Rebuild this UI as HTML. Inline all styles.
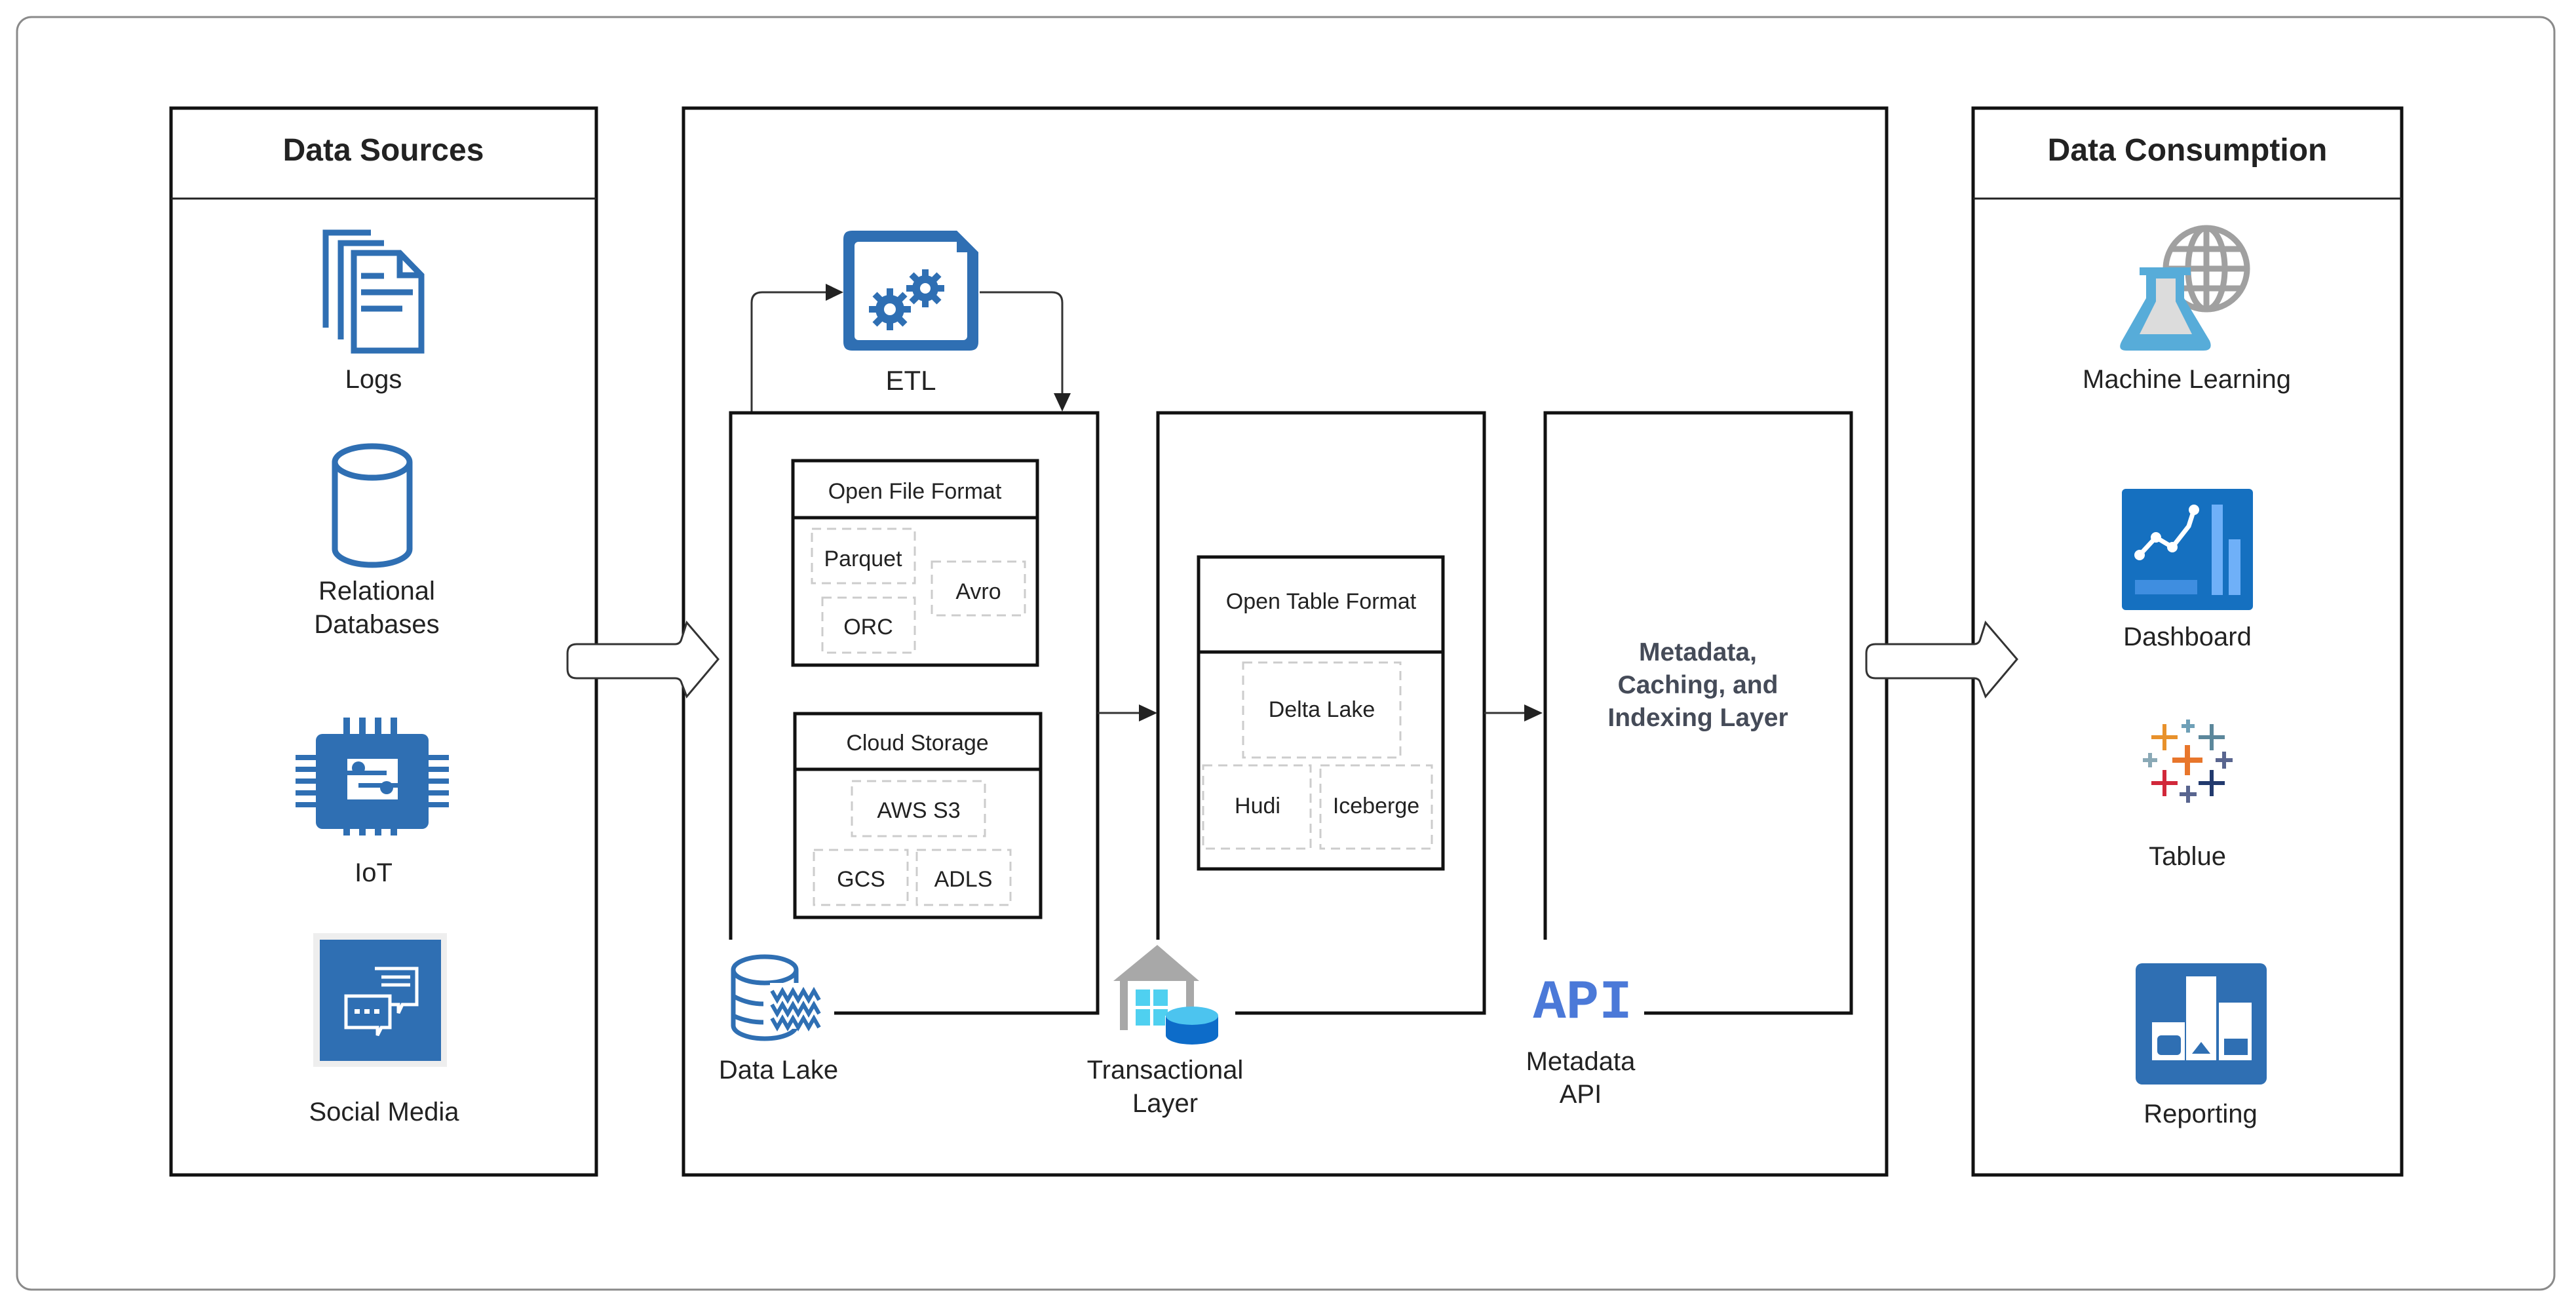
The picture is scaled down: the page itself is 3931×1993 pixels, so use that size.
<!DOCTYPE html>
<html><head><meta charset="utf-8"><style>
html,body{margin:0;padding:0;background:#fff;}
svg{display:block;}
text{font-family:"Liberation Sans",sans-serif;fill:#222;}
</style></head><body>
<svg width="3931" height="1993" viewBox="0 0 3931 1993" xmlns="http://www.w3.org/2000/svg">
<!-- outer -->
<rect x="26" y="26" width="3872" height="1942" rx="22" fill="#fff" stroke="#8a8a8a" stroke-width="3"/>

<!-- Data Sources -->
<rect x="261" y="165" width="649" height="1628" fill="#fff" stroke="#111" stroke-width="5"/>
<line x1="261" y1="303" x2="910" y2="303" stroke="#222" stroke-width="3"/>
<text x="585" y="245" font-size="48" font-weight="bold" text-anchor="middle" fill="#2a2a2a">Data Sources</text>

<!-- Logs icon -->
<g fill="none" stroke="#2f6fb3" stroke-width="9">
<path d="M497 500 V355 H566"/>
<path d="M520 518 V371 H586"/>
<path d="M540 535 V386 H610 L643 420 V535 Z"/>
<path d="M610 386 V420 H643"/>
<line x1="551" y1="421" x2="586" y2="421"/>
<line x1="551" y1="446" x2="630" y2="446"/>
<line x1="551" y1="471" x2="614" y2="471"/>
</g>
<text x="570" y="592" font-size="40" text-anchor="middle">Logs</text>

<!-- DB cylinder -->
<g fill="none" stroke="#2f6fb3" stroke-width="9">
<ellipse cx="568" cy="705" rx="57" ry="24"/>
<path d="M511 705 V838 A57 24 0 0 0 625 838 V705"/>
</g>
<text x="575" y="915" font-size="40" text-anchor="middle">Relational</text>
<text x="575" y="966" font-size="40" text-anchor="middle">Databases</text>

<!-- IoT chip -->
<g fill="#2f6fb3">
<rect x="524" y="1095" width="10" height="180"/><rect x="548" y="1095" width="10" height="180"/><rect x="572" y="1095" width="10" height="180"/><rect x="596" y="1095" width="10" height="180"/>
<rect x="451" y="1152" width="234" height="8"/><rect x="451" y="1170" width="234" height="8"/><rect x="451" y="1188" width="234" height="8"/><rect x="451" y="1206" width="234" height="8"/><rect x="451" y="1224" width="234" height="8"/>
<rect x="482" y="1120" width="172" height="145" rx="10"/>
</g>
<rect x="530" y="1158" width="77" height="62" fill="#fff"/>
<g fill="#2f6fb3"><rect x="530" y="1176" width="60" height="7"/><rect x="547" y="1195" width="60" height="7"/><circle cx="547" cy="1172" r="10"/><circle cx="590" cy="1202" r="10"/></g>
<text x="570" y="1345" font-size="40" text-anchor="middle">IoT</text>

<!-- Social media -->
<rect x="478" y="1424" width="204" height="204" fill="#eee"/>
<rect x="488" y="1434" width="185" height="185" fill="#2f6fb3"/>
<g fill="none" stroke="#fff" stroke-width="5">
<path d="M572 1478 H636 V1533 H614 L608 1546 V1533 H597"/>
<path d="M528 1520 H595 V1568 H582 L576 1580 V1568 H528 Z" fill="#2f6fb3"/>
<line x1="582" y1="1491" x2="626" y2="1491"/><line x1="582" y1="1503" x2="626" y2="1503"/>
</g>
<g fill="#fff"><rect x="541" y="1540" width="8" height="7"/><rect x="556" y="1540" width="8" height="7"/><rect x="571" y="1540" width="8" height="7"/></g>
<text x="586" y="1710" font-size="40" text-anchor="middle">Social Media</text>

<!-- middle box -->
<rect x="1043" y="165" width="1836" height="1628" fill="none" stroke="#111" stroke-width="5"/>

<!-- ETL icon -->
<path d="M1300 352 H1460 L1493 385 V522 Q1493 535 1480 535 H1300 Q1287 535 1287 522 V365 Q1287 352 1300 352 Z" fill="#2f6fb3"/>
<rect x="1304" y="369" width="172" height="150" rx="6" fill="#fff"/>
<path d="M1460 352 V385 H1493" fill="#2f6fb3"/>
<g fill="#2f6fb3">
<circle cx="1358" cy="472" r="22"/><circle cx="1412" cy="440" r="20"/>
<g stroke="#2f6fb3" stroke-width="10">
<line x1="1358" y1="440" x2="1358" y2="504"/><line x1="1326" y1="472" x2="1390" y2="472"/><line x1="1335" y1="449" x2="1381" y2="495"/><line x1="1381" y1="449" x2="1335" y2="495"/>
<line x1="1412" y1="411" x2="1412" y2="469"/><line x1="1383" y1="440" x2="1441" y2="440"/><line x1="1391" y1="419" x2="1433" y2="461"/><line x1="1433" y1="419" x2="1391" y2="461"/>
</g></g>
<circle cx="1358" cy="472" r="9" fill="#fff"/><circle cx="1412" cy="440" r="8" fill="#fff"/>
<text x="1390" y="595" font-size="42" text-anchor="middle">ETL</text>

<!-- ETL connectors -->
<path d="M1147 630 V462 Q1147 446 1163 446 H1262" fill="none" stroke="#333" stroke-width="3"/>
<path d="M1287 446 L1260 433 L1260 459 Z" fill="#222"/>
<path d="M1495 446 H1605 Q1621 446 1621 462 V600" fill="none" stroke="#333" stroke-width="3"/>
<path d="M1621 628 L1608 600 L1634 600 Z" fill="#222"/>

<!-- Data Lake box -->
<path d="M1115 1434 V630 H1675 V1546 H1273" fill="none" stroke="#111" stroke-width="5"/>
<!-- Transactional box -->
<path d="M1767 1434 V630 H2265 V1546 H1885" fill="none" stroke="#111" stroke-width="5"/>
<!-- Metadata box -->
<path d="M2358 1434 V630 H2825 V1546 H2509" fill="none" stroke="#111" stroke-width="5"/>

<!-- arrows between -->
<line x1="1675" y1="1088" x2="1740" y2="1088" stroke="#333" stroke-width="3"/>
<path d="M1766 1088 L1738 1075 L1738 1101 Z" fill="#222"/>
<line x1="2265" y1="1088" x2="2328" y2="1088" stroke="#333" stroke-width="3"/>
<path d="M2354 1088 L2326 1075 L2326 1101 Z" fill="#222"/>

<!-- Open File Format -->
<rect x="1210" y="703" width="373" height="312" fill="#fff" stroke="#111" stroke-width="5"/>
<line x1="1210" y1="790" x2="1583" y2="790" stroke="#111" stroke-width="5"/>
<text x="1396" y="761" font-size="34" text-anchor="middle">Open File Format</text>
<g fill="none" stroke="#ccc" stroke-width="3" stroke-dasharray="14 9">
<rect x="1239" y="807" width="157" height="83"/>
<rect x="1422" y="857" width="142" height="82"/>
<rect x="1255" y="912" width="141" height="84"/>
<rect x="1300" y="1192" width="203" height="84"/>
<rect x="1242" y="1297" width="143" height="84"/>
<rect x="1399" y="1297" width="143" height="84"/>
<rect x="1897" y="1011" width="240" height="145"/>
<rect x="1836" y="1168" width="164" height="127"/>
<rect x="2015" y="1168" width="170" height="127"/>
</g>
<text x="1317" y="864" font-size="34" text-anchor="middle">Parquet</text>
<text x="1493" y="914" font-size="34" text-anchor="middle">Avro</text>
<text x="1325" y="968" font-size="34" text-anchor="middle">ORC</text>

<!-- Cloud Storage -->
<rect x="1213" y="1089" width="375" height="311" fill="none" stroke="#111" stroke-width="5"/>
<line x1="1213" y1="1174" x2="1588" y2="1174" stroke="#111" stroke-width="5"/>
<text x="1400" y="1145" font-size="34" text-anchor="middle">Cloud Storage</text>
<text x="1402" y="1248" font-size="34" text-anchor="middle">AWS S3</text>
<text x="1314" y="1353" font-size="34" text-anchor="middle">GCS</text>
<text x="1470" y="1353" font-size="34" text-anchor="middle">ADLS</text>

<!-- Open Table Format -->
<rect x="1829" y="850" width="373" height="476" fill="none" stroke="#111" stroke-width="5"/>
<line x1="1829" y1="995" x2="2202" y2="995" stroke="#111" stroke-width="5"/>
<text x="2016" y="929" font-size="34" text-anchor="middle">Open Table Format</text>
<text x="2017" y="1094" font-size="34" text-anchor="middle">Delta Lake</text>
<text x="1919" y="1241" font-size="34" text-anchor="middle">Hudi</text>
<text x="2100" y="1241" font-size="34" text-anchor="middle">Iceberge</text>

<!-- Metadata text -->
<g font-size="39" font-weight="bold" text-anchor="middle">
<text x="2591" y="1008" style="fill:#454b58">Metadata,</text>
<text x="2591" y="1058" style="fill:#454b58">Caching, and</text>
<text x="2591" y="1108" style="fill:#454b58">Indexing Layer</text>
</g>

<!-- Data Lake icon -->
<g fill="none" stroke="#2f6fb3" stroke-width="7">
<ellipse cx="1167" cy="1480" rx="48" ry="20"/>
<path d="M1119 1480 V1565 A48 20 0 0 0 1215 1565"/>
<path d="M1119 1520 Q1140 1532 1165 1532"/>
<path d="M1119 1550 Q1140 1560 1165 1560"/>
<path d="M1215 1480 V1500"/>
</g>
<rect x="1175" y="1500" width="88" height="70" fill="#fff"/>
<g fill="none" stroke="#2f6fb3" stroke-width="6">
<path d="M1178 1512 l8 14 l8 -14 l8 14 l8 -14 l8 14 l8 -14 l8 14 l8 -14 l8 14"/>
<path d="M1178 1533 l8 14 l8 -14 l8 14 l8 -14 l8 14 l8 -14 l8 14 l8 -14 l8 14"/>
<path d="M1178 1554 l8 14 l8 -14 l8 14 l8 -14 l8 14 l8 -14 l8 14 l8 -14 l8 14"/>
</g>
<text x="1188" y="1646" font-size="40" text-anchor="middle">Data Lake</text>

<!-- Transactional icon -->
<path d="M1699 1497 L1766 1442 L1830 1497 Z" fill="#a8a8a8"/>
<rect x="1709" y="1497" width="12" height="75" fill="#a8a8a8"/>
<rect x="1810" y="1497" width="12" height="60" fill="#a8a8a8"/>
<g fill="#4fd0f0"><rect x="1733" y="1510" width="22" height="25"/><rect x="1760" y="1510" width="22" height="25"/><rect x="1733" y="1540" width="22" height="25"/><rect x="1760" y="1540" width="22" height="25"/></g>
<rect x="1778" y="1550" width="82" height="58" fill="#fff"/>
<path d="M1779 1550 V1580 A40 14 0 0 0 1859 1580 V1550 Z" fill="#0d6cc9"/>
<ellipse cx="1819" cy="1550" rx="40" ry="14" fill="#4cc4ef"/>
<text x="1778" y="1646" font-size="40" text-anchor="middle">Transactional</text>
<text x="1778" y="1697" font-size="40" text-anchor="middle">Layer</text>

<!-- API -->
<text x="2415" y="1553" font-size="84" font-weight="bold" text-anchor="middle" style="fill:#4b79d8;font-family:'Liberation Mono',monospace">API</text>
<text x="2412" y="1633" font-size="40" text-anchor="middle">Metadata</text>
<text x="2412" y="1683" font-size="40" text-anchor="middle">API</text>

<!-- Data Consumption -->
<rect x="3011" y="165" width="654" height="1628" fill="#fff" stroke="#111" stroke-width="5"/>
<line x1="3011" y1="303" x2="3665" y2="303" stroke="#222" stroke-width="3"/>
<text x="3338" y="245" font-size="48" font-weight="bold" text-anchor="middle" fill="#2a2a2a">Data Consumption</text>

<!-- ML icon -->
<g fill="none" stroke="#a0a0a0" stroke-width="9">
<circle cx="3367" cy="410" r="62"/>
<ellipse cx="3367" cy="410" rx="28" ry="62"/>
<line x1="3305" y1="410" x2="3429" y2="410"/>
<line x1="3315" y1="380" x2="3419" y2="380"/>
<line x1="3315" y1="440" x2="3419" y2="440"/>
<line x1="3367" y1="348" x2="3367" y2="472"/>
</g>
<path d="M3265 408 H3343 V420 H3333 V455 L3372 520 Q3378 535 3362 535 H3245 Q3230 535 3238 520 L3275 455 V420 H3265 Z" fill="#57acd9"/>
<path d="M3290 425 H3320 V460 L3345 510 H3265 L3290 460 Z" fill="#dcdcdc"/>
<text x="3337" y="592" font-size="40" text-anchor="middle">Machine Learning</text>

<!-- Dashboard -->
<rect x="3238" y="746" width="200" height="185" rx="6" fill="#1570c0"/>
<rect x="3258" y="885" width="95" height="22" fill="#3f8ee0"/>
<rect x="3375" y="770" width="17" height="138" fill="#6fb0f8"/>
<rect x="3401" y="823" width="18" height="85" fill="#6fb0f8"/>
<polyline points="3265,847 3290,820 3315,835 3340,803 3348,778" fill="none" stroke="#fff" stroke-width="7" stroke-linejoin="round"/>
<g fill="#fff"><circle cx="3265" cy="847" r="8"/><circle cx="3290" cy="820" r="8"/><circle cx="3315" cy="835" r="8"/><circle cx="3348" cy="778" r="8"/></g>
<text x="3338" y="985" font-size="40" text-anchor="middle">Dashboard</text>

<!-- Tableau -->
<g stroke-width="6">
<g stroke="#e8912b"><line x1="3283" y1="1125" x2="3323" y2="1125"/><line x1="3303" y1="1105" x2="3303" y2="1145"/></g>
<g stroke="#6fa0b7"><line x1="3329" y1="1108" x2="3349" y2="1108"/><line x1="3339" y1="1098" x2="3339" y2="1118"/></g>
<g stroke="#5b879b"><line x1="3355" y1="1125" x2="3395" y2="1125"/><line x1="3375" y1="1105" x2="3375" y2="1145"/></g>
<g stroke="#8aa9b6"><line x1="3270" y1="1160" x2="3292" y2="1160"/><line x1="3281" y1="1149" x2="3281" y2="1171"/></g>
<g stroke="#e8762b" stroke-width="8"><line x1="3315" y1="1160" x2="3361" y2="1160"/><line x1="3338" y1="1137" x2="3338" y2="1183"/></g>
<g stroke="#59658f"><line x1="3381" y1="1160" x2="3407" y2="1160"/><line x1="3394" y1="1147" x2="3394" y2="1173"/></g>
<g stroke="#d1283a"><line x1="3283" y1="1195" x2="3323" y2="1195"/><line x1="3303" y1="1175" x2="3303" y2="1215"/></g>
<g stroke="#59658f"><line x1="3326" y1="1212" x2="3352" y2="1212"/><line x1="3339" y1="1199" x2="3339" y2="1225"/></g>
<g stroke="#223a6e"><line x1="3355" y1="1195" x2="3395" y2="1195"/><line x1="3375" y1="1175" x2="3375" y2="1215"/></g>
</g>
<text x="3338" y="1320" font-size="40" text-anchor="middle">Tablue</text>

<!-- Reporting -->
<rect x="3259" y="1470" width="200" height="185" rx="10" fill="#2f6fb3"/>
<g fill="#fff">
<rect x="3284" y="1560" width="50" height="58"/>
<rect x="3336" y="1490" width="46" height="128"/>
<rect x="3386" y="1530" width="50" height="88"/>
</g>
<g fill="#2f6fb3">
<rect x="3292" y="1580" width="36" height="30" rx="6"/>
<path d="M3345 1608 L3359 1590 L3373 1608 Z"/>
<rect x="3394" y="1585" width="36" height="25"/>
</g>
<text x="3358" y="1713" font-size="40" text-anchor="middle">Reporting</text>

<!-- big arrows (drawn last, on top of borders) -->
<path d="M880 983 H1030 Q1038 983 1040 975 L1048 950 L1096 1006 L1048 1063 L1040 1042 Q1038 1035 1030 1035 H880 Q866 1035 866 1021 V997 Q866 983 880 983 Z" fill="#fff" stroke="#333" stroke-width="3"/>
<path d="M2862 983 H3012 Q3020 983 3022 975 L3030 950 L3078 1006 L3030 1063 L3022 1042 Q3020 1035 3012 1035 H2862 Q2848 1035 2848 1021 V997 Q2848 983 2862 983 Z" fill="#fff" stroke="#333" stroke-width="3"/>
</svg>
</body></html>
